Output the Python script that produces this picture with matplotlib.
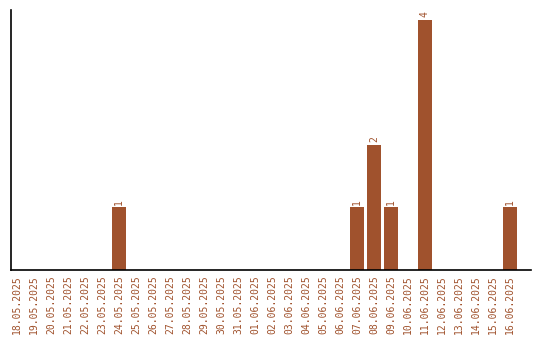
import matplotlib
matplotlib.use("Agg")
import matplotlib.pyplot as plt
import numpy as np

# Data
dates = ['18.05.2025', '19.05.2025', '20.05.2025', '21.05.2025', '22.05.2025',
         '23.05.2025', '24.05.2025', '25.05.2025', '26.05.2025', '27.05.2025',
         '28.05.2025', '29.05.2025', '30.05.2025', '31.05.2025', '01.06.2025',
         '02.06.2025', '03.06.2025', '04.06.2025', '05.06.2025', '06.06.2025',
         '07.06.2025', '08.06.2025', '09.06.2025', '10.06.2025', '11.06.2025',
         '12.06.2025', '13.06.2025', '14.06.2025', '15.06.2025', '16.06.2025']
counts = [0, 0, 0, 0, 0, 0, 1, 0, 0, 0,
          0, 0, 0, 0, 0, 0, 0, 0, 0, 0,
          1, 2, 1, 0, 4, 0, 0, 0, 0, 1]

color = '#A0522D'
x = np.arange(len(dates))

fig = plt.figure(figsize=(5.4, 3.4), dpi=100)
ax = fig.add_axes([0.0204, 0.207, 0.963, 0.764])

bars = ax.bar(x, counts, width=0.8, color=color)

# value labels above non-zero bars
for bar, c in zip(bars, counts):
    if c > 0:
        ax.text(bar.get_x() + bar.get_width() / 2, c + 0.04, str(c),
                ha='center', va='bottom', rotation=90, color=color,
                fontsize=7, family='DejaVu Sans Mono')

ax.set_xlim(-0.35, 30.24)
ax.set_ylim(0, 4.16)
ax.set_xticks(x)
ax.set_xticklabels(dates, rotation=90, color=color, fontsize=7,
                   family='DejaVu Sans Mono')
ax.tick_params(axis='x', length=0, pad=4)
ax.set_yticks([])
ax.spines['top'].set_visible(False)
ax.spines['right'].set_visible(False)
ax.spines['left'].set_linewidth(1.2)
ax.spines['bottom'].set_linewidth(1.2)

fig.savefig('out.png', dpi=100)
